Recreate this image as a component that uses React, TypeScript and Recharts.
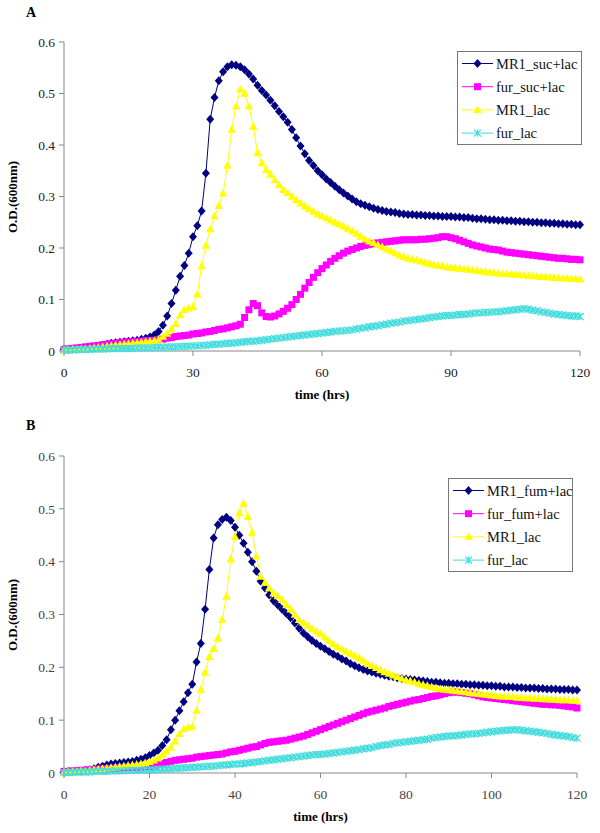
import React from "react";
import { LineChart, Line, XAxis, YAxis, Legend } from "recharts";

// sampling time (hrs)
const hours = [
  0, 1, 2, 3, 4, 5, 6, 7, 8, 9,
  10, 11, 12, 13, 14, 15, 16, 17, 18, 19,
  20, 21, 22, 23, 24, 25, 26, 27, 28, 29,
  30, 31, 32, 33, 34, 35, 36, 37, 38, 39,
  40, 41, 42, 43, 44, 45, 46, 47, 48, 49,
  50, 51, 52, 53, 54, 55, 56, 57, 58, 59,
  60, 61, 62, 63, 64, 65, 66, 67, 68, 69,
  70, 71, 72, 73, 74, 75, 76, 77, 78, 79,
  80, 81, 82, 83, 84, 85, 86, 87, 88, 89,
  90, 91, 92, 93, 94, 95, 96, 97, 98, 99,
  100, 101, 102, 103, 104, 105, 106, 107, 108, 109,
  110, 111, 112, 113, 114, 115, 116, 117, 118, 119,
  120,
];

// ---- panel A ----
const aMr1SucLac = [
  0.003, 0.003, 0.004, 0.004, 0.005, 0.005, 0.006, 0.007, 0.009, 0.011,
  0.013, 0.015, 0.016, 0.017, 0.018, 0.019, 0.020, 0.021, 0.023, 0.025,
  0.027, 0.031, 0.038, 0.050, 0.068, 0.092, 0.118, 0.145, 0.166, 0.190,
  0.222, 0.243, 0.272, 0.345, 0.450, 0.492, 0.525, 0.542, 0.552, 0.556,
  0.555, 0.552, 0.546, 0.538, 0.528, 0.516, 0.506, 0.497, 0.487, 0.476,
  0.465, 0.455, 0.444, 0.430, 0.414, 0.398, 0.383, 0.370, 0.360, 0.350,
  0.342, 0.334, 0.327, 0.320, 0.313, 0.307, 0.301, 0.295, 0.290, 0.286,
  0.283, 0.280, 0.277, 0.275, 0.273, 0.271, 0.270, 0.269, 0.267, 0.266,
  0.265, 0.265, 0.264, 0.264, 0.263, 0.263, 0.262, 0.262, 0.261, 0.261,
  0.261, 0.260, 0.260, 0.259, 0.259, 0.258, 0.257, 0.257, 0.256, 0.255,
  0.255, 0.254, 0.254, 0.253, 0.253, 0.252, 0.252, 0.251, 0.251, 0.250,
  0.250, 0.249, 0.249, 0.248, 0.248, 0.247, 0.247, 0.246, 0.246, 0.245,
  0.245,
];
const aFurSucLac = [
  0.003, 0.004, 0.005, 0.006, 0.007, 0.008, 0.009, 0.010, 0.011, 0.012,
  0.013, 0.014, 0.015, 0.016, 0.017, 0.018, 0.018, 0.019, 0.019, 0.020,
  0.020, 0.021, 0.022, 0.023, 0.025, 0.026, 0.028, 0.029, 0.030, 0.031,
  0.033, 0.034, 0.035, 0.037, 0.038, 0.040, 0.042, 0.043, 0.045, 0.047,
  0.049, 0.052, 0.065, 0.080, 0.092, 0.088, 0.074, 0.067, 0.066, 0.068,
  0.072, 0.077, 0.083, 0.090, 0.100, 0.110, 0.122, 0.133, 0.143, 0.152,
  0.160, 0.167, 0.174, 0.180, 0.185, 0.190, 0.194, 0.197, 0.200, 0.203,
  0.205, 0.207, 0.209, 0.210, 0.211, 0.212, 0.213, 0.214, 0.215, 0.216,
  0.216, 0.216, 0.216, 0.217, 0.217, 0.218, 0.219, 0.220, 0.222, 0.222,
  0.220, 0.218, 0.215, 0.212, 0.209, 0.206, 0.204, 0.202, 0.200, 0.198,
  0.197, 0.196, 0.194, 0.192, 0.191, 0.190, 0.189, 0.188, 0.187, 0.186,
  0.185, 0.184, 0.183, 0.182, 0.181, 0.180, 0.180, 0.179, 0.178, 0.178,
  0.177,
];
const aMr1Lac = [
  0.002, 0.002, 0.003, 0.003, 0.004, 0.004, 0.005, 0.006, 0.007, 0.008,
  0.009, 0.010, 0.011, 0.012, 0.013, 0.014, 0.015, 0.016, 0.017, 0.018,
  0.019, 0.020, 0.022, 0.028, 0.034, 0.042, 0.053, 0.070, 0.080, 0.083,
  0.086, 0.110, 0.165, 0.205, 0.237, 0.262, 0.282, 0.306, 0.360, 0.430,
  0.475, 0.508, 0.500, 0.475, 0.436, 0.385, 0.365, 0.352, 0.343, 0.332,
  0.322, 0.313, 0.307, 0.300, 0.293, 0.287, 0.281, 0.276, 0.271, 0.266,
  0.262, 0.258, 0.254, 0.250, 0.246, 0.242, 0.238, 0.233, 0.228, 0.222,
  0.217, 0.213, 0.210, 0.206, 0.202, 0.198, 0.194, 0.190, 0.186, 0.183,
  0.180, 0.178, 0.176, 0.174, 0.172, 0.170, 0.168, 0.166, 0.165, 0.163,
  0.162, 0.161, 0.160, 0.159, 0.158, 0.157, 0.156, 0.155, 0.154, 0.153,
  0.152, 0.151, 0.150, 0.150, 0.149, 0.148, 0.148, 0.147, 0.146, 0.146,
  0.145, 0.144, 0.144, 0.143, 0.142, 0.142, 0.141, 0.141, 0.140, 0.140,
  0.139,
];
const aFurLac = [
  0.002, 0.002, 0.002, 0.003, 0.003, 0.003, 0.003, 0.004, 0.004, 0.004,
  0.004, 0.005, 0.005, 0.005, 0.005, 0.005, 0.005, 0.006, 0.006, 0.006,
  0.006, 0.007, 0.007, 0.007, 0.008, 0.008, 0.008, 0.009, 0.009, 0.009,
  0.010, 0.010, 0.011, 0.011, 0.012, 0.013, 0.013, 0.014, 0.015, 0.015,
  0.016, 0.017, 0.018, 0.019, 0.019, 0.020, 0.021, 0.022, 0.023, 0.024,
  0.025, 0.026, 0.027, 0.028, 0.029, 0.030, 0.031, 0.032, 0.033, 0.034,
  0.035, 0.036, 0.037, 0.038, 0.039, 0.039, 0.040, 0.041, 0.043, 0.044,
  0.045, 0.047, 0.048, 0.049, 0.051, 0.052, 0.054, 0.055, 0.056, 0.058,
  0.059, 0.060, 0.061, 0.062, 0.063, 0.065, 0.066, 0.067, 0.068, 0.069,
  0.069, 0.070, 0.071, 0.071, 0.072, 0.073, 0.074, 0.074, 0.075, 0.075,
  0.076, 0.076, 0.077, 0.078, 0.079, 0.080, 0.081, 0.082, 0.081, 0.079,
  0.078, 0.076, 0.075, 0.073, 0.072, 0.071, 0.070, 0.069, 0.068, 0.068,
  0.067,
];

// ---- panel B ----
const bMr1FumLac = [
  0.002, 0.003, 0.003, 0.004, 0.004, 0.005, 0.006, 0.008, 0.011, 0.013,
  0.015, 0.017, 0.018, 0.019, 0.020, 0.021, 0.022, 0.024, 0.026, 0.029,
  0.033, 0.038, 0.043, 0.052, 0.063, 0.082, 0.100, 0.118, 0.135, 0.152,
  0.168, 0.210, 0.245, 0.310, 0.385, 0.445, 0.470, 0.480, 0.484, 0.478,
  0.465, 0.450, 0.435, 0.418, 0.400, 0.382, 0.363, 0.350, 0.337, 0.326,
  0.318, 0.310, 0.302, 0.294, 0.284, 0.274, 0.265, 0.258, 0.251, 0.245,
  0.240, 0.235, 0.230, 0.225, 0.221, 0.216, 0.212, 0.207, 0.203, 0.199,
  0.196, 0.193, 0.191, 0.189, 0.187, 0.185, 0.183, 0.182, 0.180, 0.179,
  0.178, 0.177, 0.176, 0.175, 0.174, 0.173, 0.172, 0.172, 0.171, 0.170,
  0.170, 0.169, 0.169, 0.168, 0.168, 0.167, 0.167, 0.166, 0.166, 0.165,
  0.165, 0.164, 0.164, 0.163, 0.163, 0.163, 0.162, 0.162, 0.161, 0.161,
  0.161, 0.160, 0.160, 0.159, 0.159, 0.159, 0.158, 0.158, 0.158, 0.157,
  0.157,
];
const bFurFumLac = [
  0.003, 0.003, 0.004, 0.004, 0.005, 0.005, 0.006, 0.006, 0.007, 0.008,
  0.008, 0.009, 0.009, 0.010, 0.010, 0.011, 0.011, 0.011, 0.012, 0.012,
  0.012, 0.014, 0.016, 0.018, 0.020, 0.022, 0.024, 0.025, 0.026, 0.027,
  0.028, 0.030, 0.031, 0.032, 0.033, 0.034, 0.035, 0.036, 0.038, 0.040,
  0.041, 0.043, 0.045, 0.047, 0.049, 0.050, 0.053, 0.056, 0.058, 0.059,
  0.060, 0.061, 0.062, 0.064, 0.066, 0.068, 0.070, 0.073, 0.076, 0.079,
  0.082, 0.085, 0.088, 0.091, 0.094, 0.097, 0.100, 0.103, 0.106, 0.109,
  0.112, 0.115, 0.117, 0.119, 0.121, 0.123, 0.126, 0.128, 0.130, 0.132,
  0.134, 0.136, 0.138, 0.139, 0.141, 0.143, 0.145, 0.146, 0.148, 0.150,
  0.152, 0.153, 0.153, 0.152, 0.151, 0.150, 0.148, 0.146, 0.144, 0.143,
  0.142, 0.141, 0.140, 0.139, 0.138, 0.137, 0.136, 0.135, 0.134, 0.133,
  0.132, 0.131, 0.130, 0.130, 0.129, 0.129, 0.128, 0.127, 0.126, 0.125,
  0.123,
];
const bMr1Lac = [
  0.002, 0.002, 0.003, 0.003, 0.004, 0.004, 0.005, 0.006, 0.007, 0.008,
  0.009, 0.010, 0.011, 0.012, 0.013, 0.014, 0.015, 0.016, 0.017, 0.019,
  0.021, 0.024, 0.028, 0.034, 0.041, 0.048, 0.060, 0.074, 0.083, 0.086,
  0.088, 0.118, 0.158, 0.190, 0.220, 0.235, 0.255, 0.290, 0.334, 0.405,
  0.447, 0.492, 0.510, 0.485, 0.455, 0.410, 0.372, 0.360, 0.350, 0.340,
  0.335, 0.328, 0.318, 0.310, 0.300, 0.290, 0.285, 0.279, 0.273, 0.268,
  0.264, 0.257, 0.250, 0.244, 0.239, 0.234, 0.230, 0.226, 0.222, 0.218,
  0.213, 0.207, 0.203, 0.199, 0.195, 0.191, 0.188, 0.185, 0.182, 0.179,
  0.176, 0.174, 0.172, 0.169, 0.167, 0.165, 0.163, 0.161, 0.159, 0.158,
  0.157, 0.156, 0.155, 0.154, 0.153, 0.152, 0.151, 0.150, 0.149, 0.148,
  0.147, 0.146, 0.145, 0.145, 0.144, 0.144, 0.143, 0.143, 0.142, 0.142,
  0.141, 0.141, 0.140, 0.140, 0.139, 0.139, 0.138, 0.138, 0.138, 0.137,
  0.137,
];
const bFurLac = [
  0.001, 0.001, 0.001, 0.002, 0.002, 0.002, 0.002, 0.003, 0.003, 0.003,
  0.003, 0.004, 0.004, 0.004, 0.004, 0.005, 0.005, 0.005, 0.005, 0.006,
  0.006, 0.006, 0.007, 0.007, 0.008, 0.008, 0.009, 0.009, 0.010, 0.010,
  0.011, 0.011, 0.012, 0.012, 0.013, 0.013, 0.014, 0.015, 0.015, 0.016,
  0.017, 0.017, 0.018, 0.019, 0.020, 0.021, 0.022, 0.023, 0.024, 0.025,
  0.026, 0.027, 0.028, 0.029, 0.030, 0.031, 0.032, 0.033, 0.034, 0.035,
  0.035, 0.036, 0.037, 0.038, 0.039, 0.040, 0.041, 0.042, 0.043, 0.044,
  0.046, 0.047, 0.048, 0.050, 0.052, 0.053, 0.054, 0.056, 0.057, 0.058,
  0.059, 0.060, 0.061, 0.062, 0.063, 0.064, 0.066, 0.067, 0.068, 0.069,
  0.070, 0.070, 0.071, 0.072, 0.073, 0.074, 0.074, 0.075, 0.076, 0.077,
  0.078, 0.079, 0.080, 0.081, 0.081, 0.082, 0.082, 0.081, 0.080, 0.079,
  0.078, 0.077, 0.076, 0.075, 0.073, 0.072, 0.071, 0.070, 0.069, 0.067,
  0.066,
];

const yTicks = [0, 0.1, 0.2, 0.3, 0.4, 0.5, 0.6];
const xTicksA = [0, 30, 60, 90, 120];
const xTicksB = [0, 20, 40, 60, 80, 100, 120];

const NAVY = "#000080";
const MAGENTA = "#FF00FF";
const YELLOW = "#FFFF00";
const CYAN = "#40DCDC";
const AXIS = "#888888";
const FONT = "'Times New Roman', 'Liberation Serif', serif";

type Shape = "diamond" | "square" | "triangle" | "cross";

function markerPath(shape: Shape, cx: number, cy: number) {
  switch (shape) {
    case "diamond":
      return `M${cx},${cy - 4.5}L${cx + 4},${cy}L${cx},${cy + 4.5}L${cx - 4},${cy}Z`;
    case "square":
      return `M${cx - 3.5},${cy - 3.5}h7v7h-7Z`;
    case "triangle":
      return `M${cx},${cy - 4.5}L${cx + 4.2},${cy + 3.2}L${cx - 4.2},${cy + 3.2}Z`;
    default:
      return `M${cx - 3.5},${cy - 3.5}L${cx + 3.5},${cy + 3.5}M${cx + 3.5},${cy - 3.5}L${cx - 3.5},${cy + 3.5}M${cx},${cy - 3.5}L${cx},${cy + 3.5}`;
  }
}

function Marker({ shape, color, cx, cy }: { shape: Shape; color: string; cx: number; cy: number }) {
  const d = markerPath(shape, cx, cy);
  if (shape === "cross") return <path d={d} stroke={color} strokeWidth={1.3} fill="none" />;
  return <path d={d} fill={color} stroke="none" />;
}

interface Series { key: string; name: string; values: number[]; color: string; shape: Shape; }

const seriesA: Series[] = [
  { key: "s0", name: "MR1_suc+lac", values: aMr1SucLac, color: NAVY, shape: "diamond" },
  { key: "s1", name: "fur_suc+lac", values: aFurSucLac, color: MAGENTA, shape: "square" },
  { key: "s2", name: "MR1_lac", values: aMr1Lac, color: YELLOW, shape: "triangle" },
  { key: "s3", name: "fur_lac", values: aFurLac, color: CYAN, shape: "cross" },
];
const seriesB: Series[] = [
  { key: "s0", name: "MR1_fum+lac", values: bMr1FumLac, color: NAVY, shape: "diamond" },
  { key: "s1", name: "fur_fum+lac", values: bFurFumLac, color: MAGENTA, shape: "square" },
  { key: "s2", name: "MR1_lac", values: bMr1Lac, color: YELLOW, shape: "triangle" },
  { key: "s3", name: "fur_lac", values: bFurLac, color: CYAN, shape: "cross" },
];

function buildRows(series: Series[]) {
  return hours.map((h, i) => {
    const row: Record<string, number> = { h };
    series.forEach(s => { row[s.key] = s.values[i]; });
    return row;
  });
}

// legend drawn as a small svg box
function LegendBox({ series }: { series: Series[] }) {
  return (
    <svg width={125} height={94} style={{ display: "block" }}>
      <rect x={0.5} y={0.5} width={124} height={93} fill="#fff" stroke="#777" />
      {series.map((s, i) => {
        const y = 12.5 + i * 23.2;
        return (
          <g key={s.key}>
            <line x1={5} y1={y} x2={36} y2={y} stroke={s.color} strokeWidth={1} />
            <Marker shape={s.shape} color={s.color} cx={20.5} cy={y} />
            <text x={39} y={y + 5} fontFamily={FONT} fontSize={14.5} fill="#111">{s.name}</text>
          </g>
        );
      })}
    </svg>
  );
}

interface PanelProps {
  label: string;
  series: Series[];
  xTicks: number[];
  top: number;
  height: number;
  margin: { top: number; right: number; bottom: number; left: number };
  xAxisHeight: number;
  legendPos: { left: number; top: number };
  tickColor: string;
}

function Panel({ label, series, xTicks, top, height, margin, xAxisHeight, legendPos, tickColor }: PanelProps) {
  const rows = buildRows(series);
  const plotTop = top + margin.top;
  const plotBottom = top + height - margin.bottom - xAxisHeight;
  const plotLeft = 64;
  const plotRight = 600 - margin.right;
  const tick = { fontFamily: FONT, fontSize: 13.5, fill: tickColor };
  return (
    <>
      <div style={{ position: "absolute", left: 0, top, width: 600, height }}>
        <LineChart width={600} height={height} data={rows} margin={margin}>
          <XAxis dataKey="h" type="number" domain={[0, 120]} ticks={xTicks} height={xAxisHeight}
            stroke={AXIS} tickSize={5} tickMargin={11} tick={tick} axisLine={{ stroke: AXIS }} tickLine={{ stroke: AXIS }} />
          <YAxis type="number" domain={[0, 0.6]} ticks={yTicks} width={64} interval={0}
            stroke={AXIS} tickSize={5} tickMargin={4} tick={tick} axisLine={{ stroke: AXIS }} tickLine={{ stroke: AXIS }} />
          {series.map(s => (
            <Line key={s.key} dataKey={s.key} name={s.name} type="linear" stroke={s.color} strokeWidth={1}
              isAnimationActive={false}
              dot={(p: any) => <Marker key={`${s.key}-${p.index}`} shape={s.shape} color={s.color} cx={p.cx} cy={p.cy} />} />
          ))}
          <Legend layout="vertical" align="center" verticalAlign="middle"
            wrapperStyle={{ left: legendPos.left, top: legendPos.top, width: 125 }}
            content={() => <LegendBox series={series} />} />
        </LineChart>
      </div>
      <div style={{ position: "absolute", left: 26, top: top + 5, fontFamily: FONT, fontWeight: "bold", fontSize: 14 }}>{label}</div>
      <div style={{ position: "absolute", left: 13, top: (plotTop + plotBottom) / 2, transform: "translate(-50%, -50%) rotate(-90deg)", fontFamily: FONT, fontWeight: "bold", fontSize: 13, whiteSpace: "nowrap" }}>
        O.D.(600nm)
      </div>
      <div style={{ position: "absolute", left: (plotLeft + plotRight) / 2, top: plotBottom + 44, transform: "translate(-50%, -50%)", fontFamily: FONT, fontWeight: "bold", fontSize: 13, whiteSpace: "nowrap" }}>
        time (hrs)
      </div>
    </>
  );
}

export default function App() {
  return (
    <div style={{ position: "absolute", left: 0, top: 0, width: 600, height: 833, background: "#fff", overflow: "hidden" }}>
      <Panel label="A" series={seriesA} xTicks={xTicksA} top={0} height={410}
        margin={{ top: 42, right: 20, bottom: 0, left: 0 }} xAxisHeight={59}
        legendPos={{ left: 457, top: 51 }} tickColor="#222" />
      <Panel label="B" series={seriesB} xTicks={xTicksB} top={413} height={420}
        margin={{ top: 43, right: 23, bottom: 0, left: 0 }} xAxisHeight={60}
        legendPos={{ left: 448, top: 65 }} tickColor="#444" />
    </div>
  );
}
